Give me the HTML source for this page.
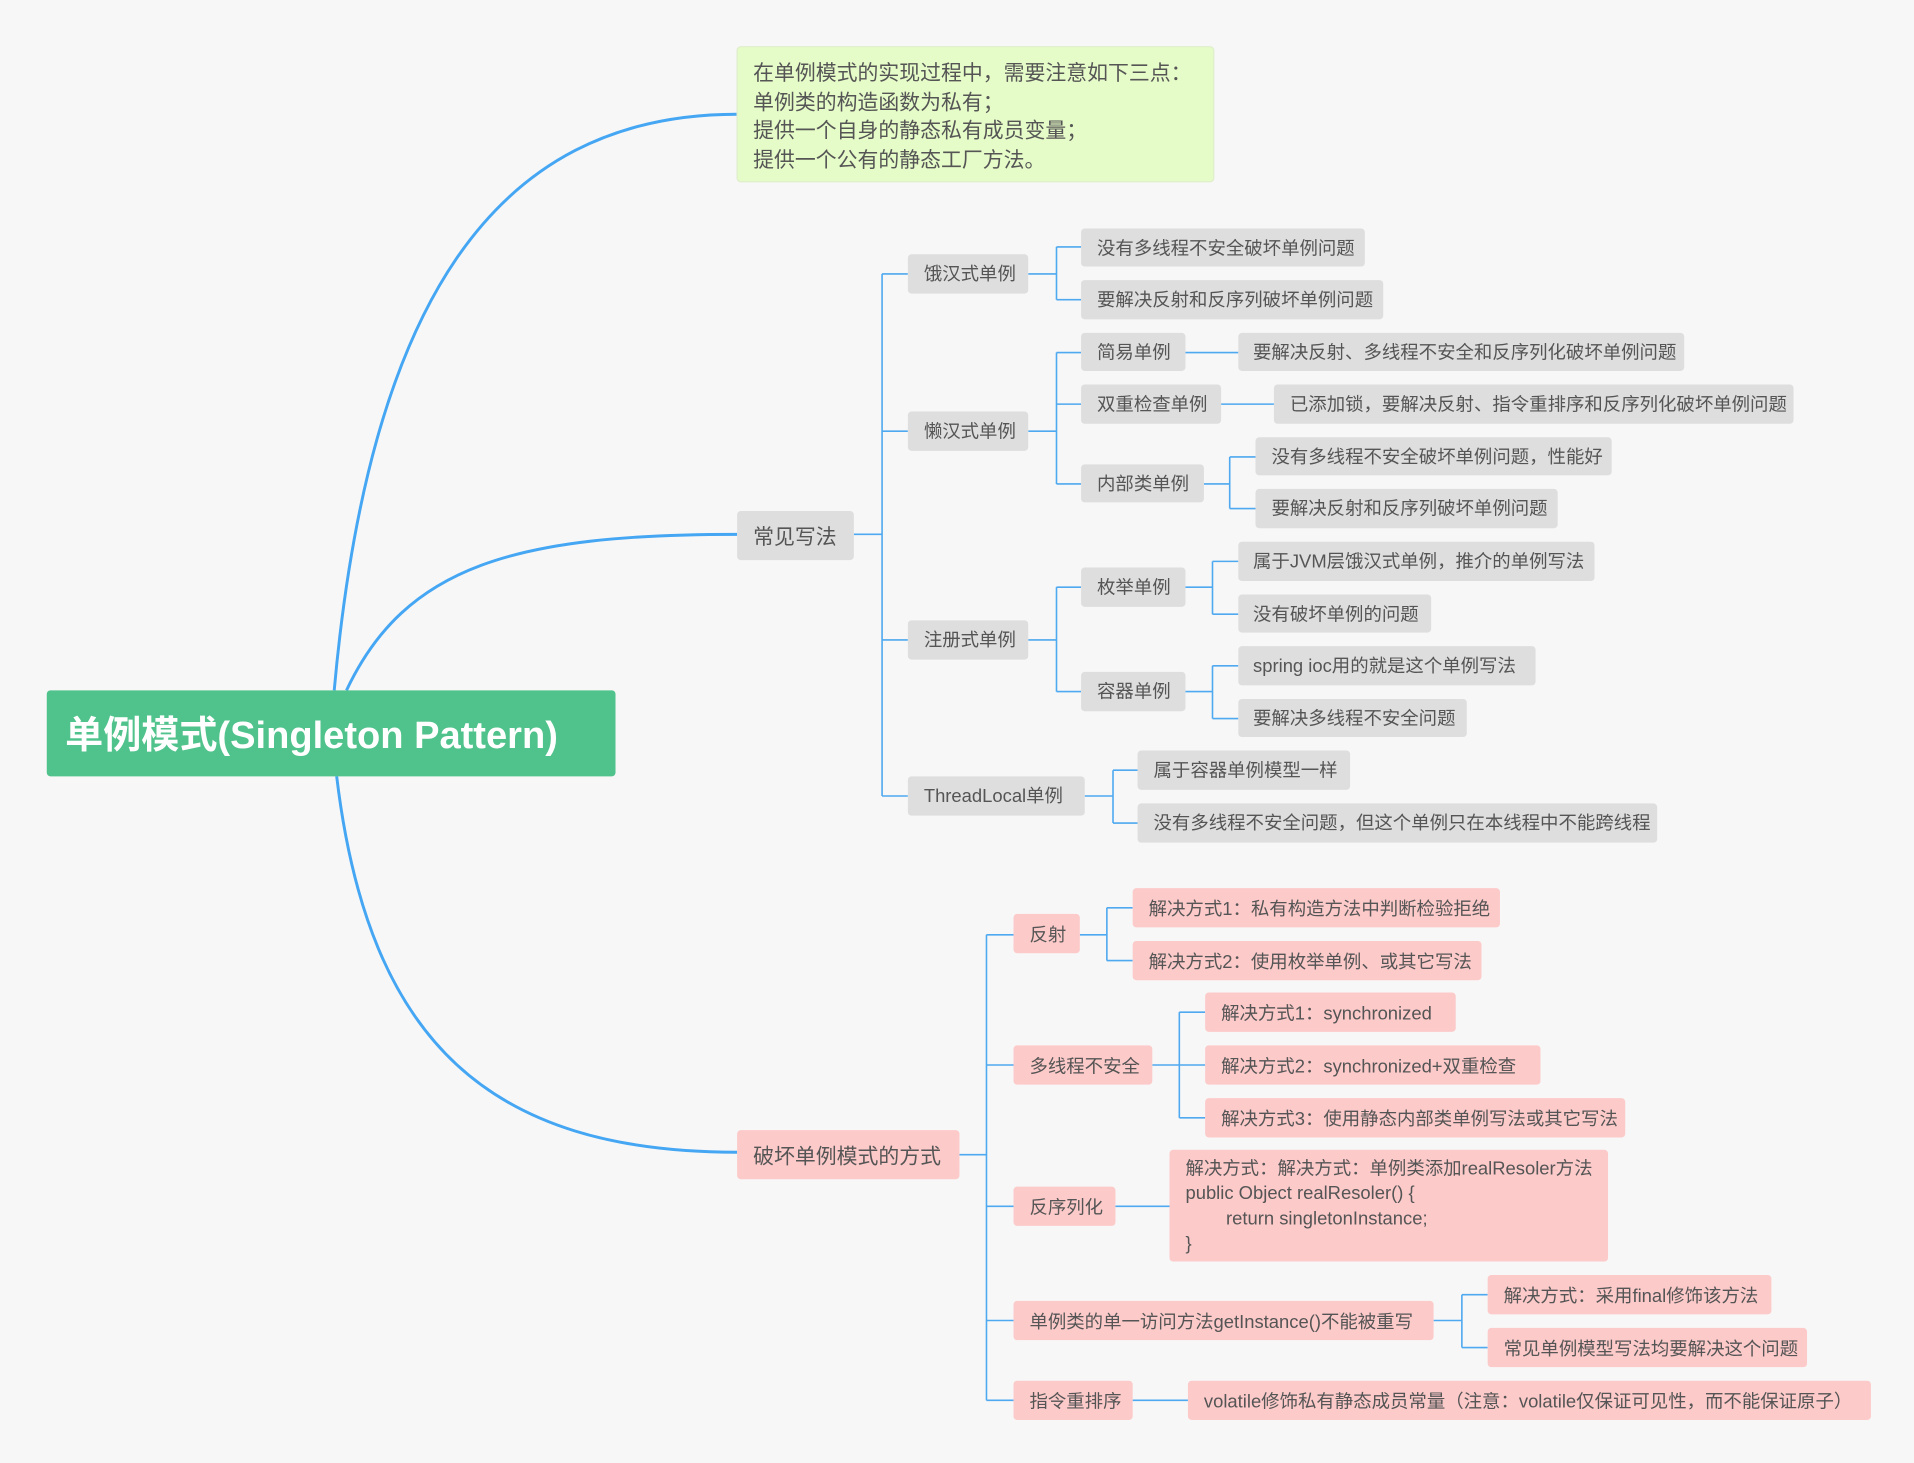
<!DOCTYPE html>
<html><head><meta charset="utf-8"><style>
html,body{margin:0;padding:0;background:#f7f7f7;}
svg{display:block;}
text{font-family:"Liberation Sans","Noto Sans CJK SC",sans-serif;fill:#555;}
.g{fill:#dedede;}
.p{fill:#fdcaca;}
.t{font-size:15px;}
.l{fill:none;stroke:#4ea9f0;stroke-width:1.3;}
.c{fill:none;stroke:#45a6f3;stroke-width:2.4;}
</style></head><body>
<svg width="1914" height="1463" viewBox="0 0 1558 1191" xmlns="http://www.w3.org/2000/svg">
<rect width="1558" height="1191" fill="#f7f7f7"/>
<!-- root curves -->
<path class="c" d="M272,562 C300,250 400,93 600,93"/>
<path class="c" d="M282,562 C330,460 420,435 600,435"/>
<path class="c" d="M274,632 C300,850 400,938 600,938"/>
<!-- connectors -->
<path class="l" d="M695,435H718 M718,223V648 M718,223H739 M718,351H739 M718,521H739 M718,648H739"/>
<path class="l" d="M837,223H860 M860,201V244 M860,201H880 M860,244H880"/>
<path class="l" d="M837,351H860 M860,287V394 M860,287H880 M860,329H880 M860,394H880"/>
<path class="l" d="M965,287H1008 M994,329H1037"/>
<path class="l" d="M980,394H1001 M1001,372V414 M1001,372H1022 M1001,414H1022"/>
<path class="l" d="M837,521H860 M860,478V563 M860,478H880 M860,563H880"/>
<path class="l" d="M965,478H987 M987,457V500 M987,457H1008 M987,500H1008"/>
<path class="l" d="M965,563H987 M987,542V585 M987,542H1008 M987,585H1008"/>
<path class="l" d="M883,648H906 M906,627V670 M906,627H926 M906,670H926"/>
<path class="l" d="M781,940H803 M803,761V1140 M803,761H825 M803,867H825 M803,982H825 M803,1075H825 M803,1140H825"/>
<path class="l" d="M879,761H901 M901,739V782 M901,739H922 M901,782H922"/>
<path class="l" d="M938,867H960 M960,824V910 M960,824H981 M960,867H981 M960,910H981"/>
<path class="l" d="M908,982H952 M922,1140H967"/>
<path class="l" d="M1167,1075H1190 M1190,1054V1097 M1190,1054H1211 M1190,1097H1211"/>

<!-- root -->
<rect x="38" y="562" width="463" height="70" rx="3" fill="#50c28b"/>
<text x="53" y="609" style="font-size:31px;font-weight:bold;fill:#fff">单例模式(Singleton Pattern)</text>

<!-- note -->
<rect x="600" y="38" width="388" height="110" rx="3" fill="#e5fbc8" stroke="#dfeecb"/>
<text x="613" y="65" style="font-size:17px">在单例模式的实现过程中，需要注意如下三点：</text>
<text x="613" y="89" style="font-size:17px">单例类的构造函数为私有；</text>
<text x="613" y="112" style="font-size:17px">提供一个自身的静态私有成员变量；</text>
<text x="613" y="136" style="font-size:17px">提供一个公有的静态工厂方法。</text>

<!-- main nodes -->
<rect class="g" x="600" y="416" width="95" height="40" rx="3"/>
<text x="613" y="443" style="font-size:17px">常见写法</text>
<rect class="p" x="600" y="920" width="181" height="40" rx="3"/>
<text x="613" y="947" style="font-size:17px">破坏单例模式的方式</text>

<!-- gray nodes -->
<rect class="g" x="739" y="207" width="98" height="32" rx="3"/><text class="t" x="752" y="228">饿汉式单例</text>
<rect class="g" x="880" y="186" width="231" height="31" rx="3"/><text class="t" x="893" y="207">没有多线程不安全破坏单例问题</text>
<rect class="g" x="880" y="228" width="246" height="32" rx="3"/><text class="t" x="893" y="249">要解决反射和反序列破坏单例问题</text>
<rect class="g" x="739" y="335" width="98" height="32" rx="3"/><text class="t" x="752" y="356">懒汉式单例</text>
<rect class="g" x="880" y="271" width="85" height="31" rx="3"/><text class="t" x="893" y="292">简易单例</text>
<rect class="g" x="1008" y="271" width="363" height="31" rx="3"/><text class="t" x="1020" y="292">要解决反射、多线程不安全和反序列化破坏单例问题</text>
<rect class="g" x="880" y="313" width="114" height="32" rx="3"/><text class="t" x="893" y="334">双重检查单例</text>
<rect class="g" x="1037" y="313" width="423" height="32" rx="3"/><text class="t" x="1050" y="334">已添加锁，要解决反射、指令重排序和反序列化破坏单例问题</text>
<rect class="g" x="880" y="378" width="100" height="31" rx="3"/><text class="t" x="893" y="399">内部类单例</text>
<rect class="g" x="1022" y="356" width="290" height="31" rx="3"/><text class="t" x="1035" y="377">没有多线程不安全破坏单例问题，性能好</text>
<rect class="g" x="1022" y="398" width="246" height="32" rx="3"/><text class="t" x="1035" y="419">要解决反射和反序列破坏单例问题</text>
<rect class="g" x="739" y="505" width="98" height="32" rx="3"/><text class="t" x="752" y="526">注册式单例</text>
<rect class="g" x="880" y="462" width="85" height="32" rx="3"/><text class="t" x="893" y="483">枚举单例</text>
<rect class="g" x="1008" y="441" width="290" height="32" rx="3"/><text class="t" x="1020" y="462">属于JVM层饿汉式单例，推介的单例写法</text>
<rect class="g" x="1008" y="484" width="157" height="31" rx="3"/><text class="t" x="1020" y="505">没有破坏单例的问题</text>
<rect class="g" x="880" y="547" width="85" height="32" rx="3"/><text class="t" x="893" y="568">容器单例</text>
<rect class="g" x="1008" y="526" width="242" height="32" rx="3"/><text class="t" x="1020" y="547">spring ioc用的就是这个单例写法</text>
<rect class="g" x="1008" y="569" width="186" height="31" rx="3"/><text class="t" x="1020" y="590">要解决多线程不安全问题</text>
<rect class="g" x="739" y="632" width="144" height="32" rx="3"/><text class="t" x="752" y="653">ThreadLocal单例</text>
<rect class="g" x="926" y="611" width="173" height="32" rx="3"/><text class="t" x="939" y="632">属于容器单例模型一样</text>
<rect class="g" x="926" y="654" width="423" height="32" rx="3"/><text class="t" x="939" y="675">没有多线程不安全问题，但这个单例只在本线程中不能跨线程</text>

<!-- pink nodes -->
<rect class="p" x="825" y="744" width="54" height="32" rx="3"/><text class="t" x="838" y="766">反射</text>
<rect class="p" x="922" y="723" width="299" height="32" rx="3"/><text class="t" x="935" y="745">解决方式1：私有构造方法中判断检验拒绝</text>
<rect class="p" x="922" y="766" width="284" height="32" rx="3"/><text class="t" x="935" y="788">解决方式2：使用枚举单例、或其它写法</text>
<rect class="p" x="825" y="851" width="113" height="32" rx="3"/><text class="t" x="838" y="873">多线程不安全</text>
<rect class="p" x="981" y="808" width="204" height="32" rx="3"/><text class="t" x="994" y="830">解决方式1：synchronized</text>
<rect class="p" x="981" y="851" width="273" height="32" rx="3"/><text class="t" x="994" y="873">解决方式2：synchronized+双重检查</text>
<rect class="p" x="981" y="894" width="342" height="32" rx="3"/><text class="t" x="994" y="916">解决方式3：使用静态内部类单例写法或其它写法</text>
<rect class="p" x="825" y="966" width="83" height="32" rx="3"/><text class="t" x="838" y="988">反序列化</text>
<rect class="p" x="952" y="936" width="357" height="91" rx="3"/>
<text class="t" x="965" y="956">解决方式：解决方式：单例类添加realResoler方法</text>
<text class="t" x="965" y="976">public Object realResoler() {</text>
<text class="t" x="998" y="997">return singletonInstance;</text>
<text class="t" x="965" y="1017">}</text>
<rect class="p" x="825" y="1059" width="342" height="32" rx="3"/><text class="t" x="838" y="1081">单例类的单一访问方法getInstance()不能被重写</text>
<rect class="p" x="1211" y="1038" width="231" height="32" rx="3"/><text class="t" x="1224" y="1060">解决方式：采用final修饰该方法</text>
<rect class="p" x="1211" y="1081" width="260" height="32" rx="3"/><text class="t" x="1224" y="1103">常见单例模型写法均要解决这个问题</text>
<rect class="p" x="825" y="1124" width="97" height="32" rx="3"/><text class="t" x="838" y="1146">指令重排序</text>
<rect class="p" x="967" y="1124" width="556" height="32" rx="3"/><text class="t" x="980" y="1146">volatile修饰私有静态成员常量（注意：volatile仅保证可见性，而不能保证原子）</text>
</svg>
</body></html>
